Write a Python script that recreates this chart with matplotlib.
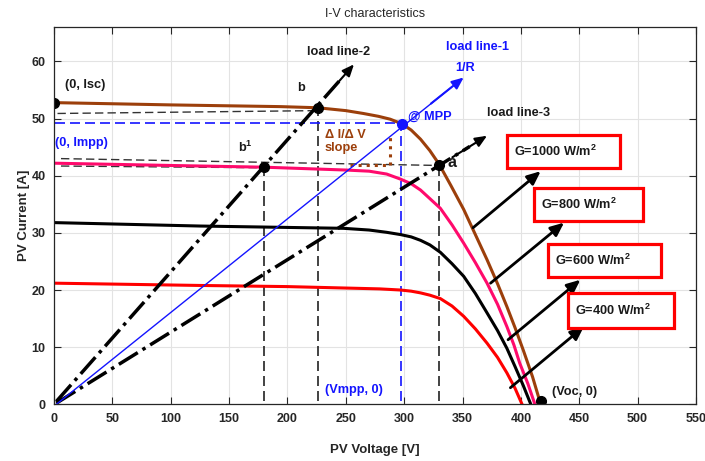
import matplotlib
matplotlib.use('Agg')
import matplotlib.pyplot as plt
from matplotlib.patches import Rectangle

plt.rcParams['font.family'] = ['Liberation Sans', 'DejaVu Sans']
plt.rcParams['mathtext.fontset'] = 'custom'
plt.rcParams['mathtext.rm'] = 'Liberation Sans'
plt.rcParams['mathtext.bf'] = 'Liberation Sans:bold'

# I-V curves (voltage [V], current [A])
v_1000 = [0, 100, 194, 226, 250, 265, 278, 288, 298, 306, 314, 322, 330, 340, 351,
          361, 371, 380, 388, 395, 402, 410, 417]
i_1000 = [52.8, 52.4, 52.1, 51.9, 51.4, 50.9, 50.4, 49.9, 49.1, 48.0, 46.4, 44.4, 42.0,
          38.3, 34.1, 29.7, 25.3, 21.1, 17.1, 13.4, 9.5, 4.8, 0]
v_800 = [0, 100, 180, 250, 270, 285, 297, 306, 314, 322, 331, 341, 351, 361, 371, 380,
         388, 394, 399, 406, 412]
i_800 = [42.2, 41.8, 41.5, 41.0, 40.8, 40.3, 39.4, 38.6, 37.5, 36.0, 34.3, 31.4, 28.2,
         24.8, 21.2, 17.5, 13.6, 10.4, 7.2, 3.6, 0]
v_600 = [0, 125, 248, 270, 285, 297, 306, 314, 322, 331, 341, 351, 361, 371, 380, 388,
         395, 402, 408.5]
i_600 = [31.8, 31.2, 30.8, 30.5, 30.1, 29.7, 29.3, 28.7, 27.9, 26.6, 24.6, 22.4, 19.4,
         16.0, 12.9, 9.8, 6.6, 3.3, 0]
v_400 = [0, 125, 200, 279, 297, 306, 314, 322, 331, 341, 351, 361, 371, 380, 388, 395, 401]
i_400 = [21.2, 20.8, 20.6, 20.2, 20.0, 19.8, 19.5, 19.1, 18.5, 17.2, 15.4, 13.2, 10.7,
         8.2, 5.5, 2.8, 0]

# operating points
isc = (0, 52.8)
pt_b = (226, 51.9)
pt_b1 = (180, 41.5)
pt_a = (330, 41.8)
mpp = (298, 49.1)
voc = (417, 0.6)

# load line tips
tip_ll1 = (351, 57.2)
tip_ll2 = (257, 59.5)
tip_ll3 = (371, 47.0)

# irradiance boxes: label, x0, y0, x1, y1, arrow start, arrow tip
boxes = [
    ('1000', 388, 41.4, 485, 47.2, (359, 30.9), (417, 40.8)),
    ('800', 411, 32.0, 505, 37.9, (374, 21.2), (437, 31.8)),
    ('600', 423, 22.3, 520, 28.1, (389, 11.3), (451, 21.8)),
    ('400', 440, 13.3, 531, 19.5, (391, 2.9), (454, 13.6)),
]

brown = '#9C3F0B'
pink = '#FF0A6C'
blue = '#1414FF'
dark = '#262626'

fig = plt.figure(figsize=(7.05, 4.61), dpi=100)
ax = fig.add_axes([0.0766, 0.123, 0.9106, 0.818])

# guide lines
ax.plot([3, pt_b[0]], [50.9, 51.4], ls=(0, (6, 3)), color='#333333', lw=1)
ax.plot([6, pt_a[0]], [43.0, 41.8], ls=(0, (6, 3)), color='#333333', lw=1)
ax.plot([6, pt_b1[0]], [41.7, 41.4], ls=(0, (6, 3)), color='#333333', lw=1)
for v, i in (pt_b1, pt_b, pt_a):
    ax.plot([v, v], [0.5, i], ls=(0, (6, 3)), color='#222222', lw=1.2)
ax.plot([1, mpp[0]], [49.3, 49.3], ls=(0, (6, 3)), color=blue, lw=1.2)
ax.plot([297, 297], [0.5, mpp[1]], ls=(0, (6, 3)), color=blue, lw=1.2)

# curves
ax.plot(v_400, i_400, color='#FF0000', lw=2.2)
ax.plot(v_600, i_600, color='black', lw=2.2)
ax.plot(v_800, i_800, color=pink, lw=2.2)
ax.plot(v_1000, i_1000, color=brown, lw=2.2)

# slope triangle
ax.plot([254, 288], [41.8, 41.8], ls=':', color=brown, lw=2.2)
ax.plot([288, 288], [41.8, 46.9], ls=':', color=brown, lw=2.2)

# load lines
ax.plot([2, tip_ll2[0] * 0.96], [0.5, tip_ll2[1] * 0.96], color='black', lw=2.5, ls='-.')
ax.plot([2, tip_ll3[0] * 0.96], [0.2, tip_ll3[1] * 0.96], color='black', lw=2.5, ls='-.')
ax.plot([2, tip_ll1[0] * 0.97], [0, tip_ll1[1] * 0.97], color=blue, lw=1)
for tip, c in ((tip_ll2, 'black'), (tip_ll3, 'black'), (tip_ll1, blue)):
    ax.annotate('', xy=tip, xytext=(tip[0] * 0.92, tip[1] * 0.92),
                arrowprops=dict(arrowstyle='-|>,head_length=0.7,head_width=0.3',
                                color=c, lw=1.5, shrinkA=0, shrinkB=0))

# markers
for p in (isc, pt_b, pt_b1, pt_a, voc):
    ax.plot(*p, 'o', color='black', ms=7)
ax.plot(*mpp, 'o', color=blue, ms=7)

# irradiance boxes and arrows
for lab, x0, y0, x1, y1, a0, a1 in boxes:
    ax.add_patch(Rectangle((x0, y0), x1 - x0, y1 - y0, fill=True, fc='white',
                           ec='#FF0000', lw=2.3, zorder=5))
    ax.text(x0 + 6, (y0 + y1) / 2, 'G=' + lab + r' W/m$^{\mathbf{2}}$', fontsize=9.2,
            fontweight='bold', color='#1a1a1a', va='center', zorder=6)
    ax.annotate('', xy=a1, xytext=a0,
                arrowprops=dict(arrowstyle='-|>,head_length=0.8,head_width=0.35',
                                color='black', lw=2, shrinkA=0, shrinkB=0))

# labels
kw = dict(fontsize=9.2, fontweight='bold', va='center')
ax.text(9, 55.8, '(0, Isc)', color='#1a1a1a', **kw)
ax.text(212, 55.4, 'b', color='#1a1a1a', ha='center', **kw)
ax.text(217, 61.7, 'load line-2', color='#1a1a1a', **kw)
ax.text(336, 62.5, 'load line-1', color=blue, **kw)
ax.text(344, 58.8, '1/R', color=blue, **kw)
ax.text(303, 50.3, '@ MPP', color=blue, **kw)
ax.text(371, 51.0, 'load line-3', color='#1a1a1a', **kw)
ax.text(337, 42.3, 'a', color='#1a1a1a', fontsize=11.5, fontweight='bold', va='center')
ax.text(1, 45.7, '(0, Impp)', color=blue, **kw)
ax.text(158, 45.0, r'b$^{\mathbf{1}}$', color='#1a1a1a', **kw)
ax.text(232, 47.1, '\u0394 I/\u0394 V', color=brown, **kw)
ax.text(232, 44.9, 'slope', color=brown, **kw)
ax.text(232, 2.5, '(Vmpp, 0)', color=blue, **kw)
ax.text(427, 2.2, '(Voc, 0)', color='#1a1a1a', **kw)

ax.set_xlim(0, 550)
ax.set_ylim(0, 66)
ax.set_xticks(range(0, 551, 50))
ax.set_yticks(range(0, 61, 10))
ax.grid(True, color='#e3e3e3', lw=0.8)
ax.set_axisbelow(True)
ax.tick_params(direction='in', top=True, right=True, length=5, width=0.8,
               colors=dark, labelsize=9, pad=6)
for lbl in ax.get_xticklabels() + ax.get_yticklabels():
    lbl.set_fontweight('bold')
for s in ax.spines.values():
    s.set_color(dark)
    s.set_linewidth(0.9)
ax.set_xlabel('PV Voltage [V]', fontsize=9.5, fontweight='bold', color=dark, labelpad=14)
ax.set_ylabel('PV Current [A]', fontsize=9.5, fontweight='bold', color=dark, labelpad=1)
ax.set_title('I-V characteristics', fontsize=9, color=dark, pad=7)

fig.savefig('out.png', dpi=100)
